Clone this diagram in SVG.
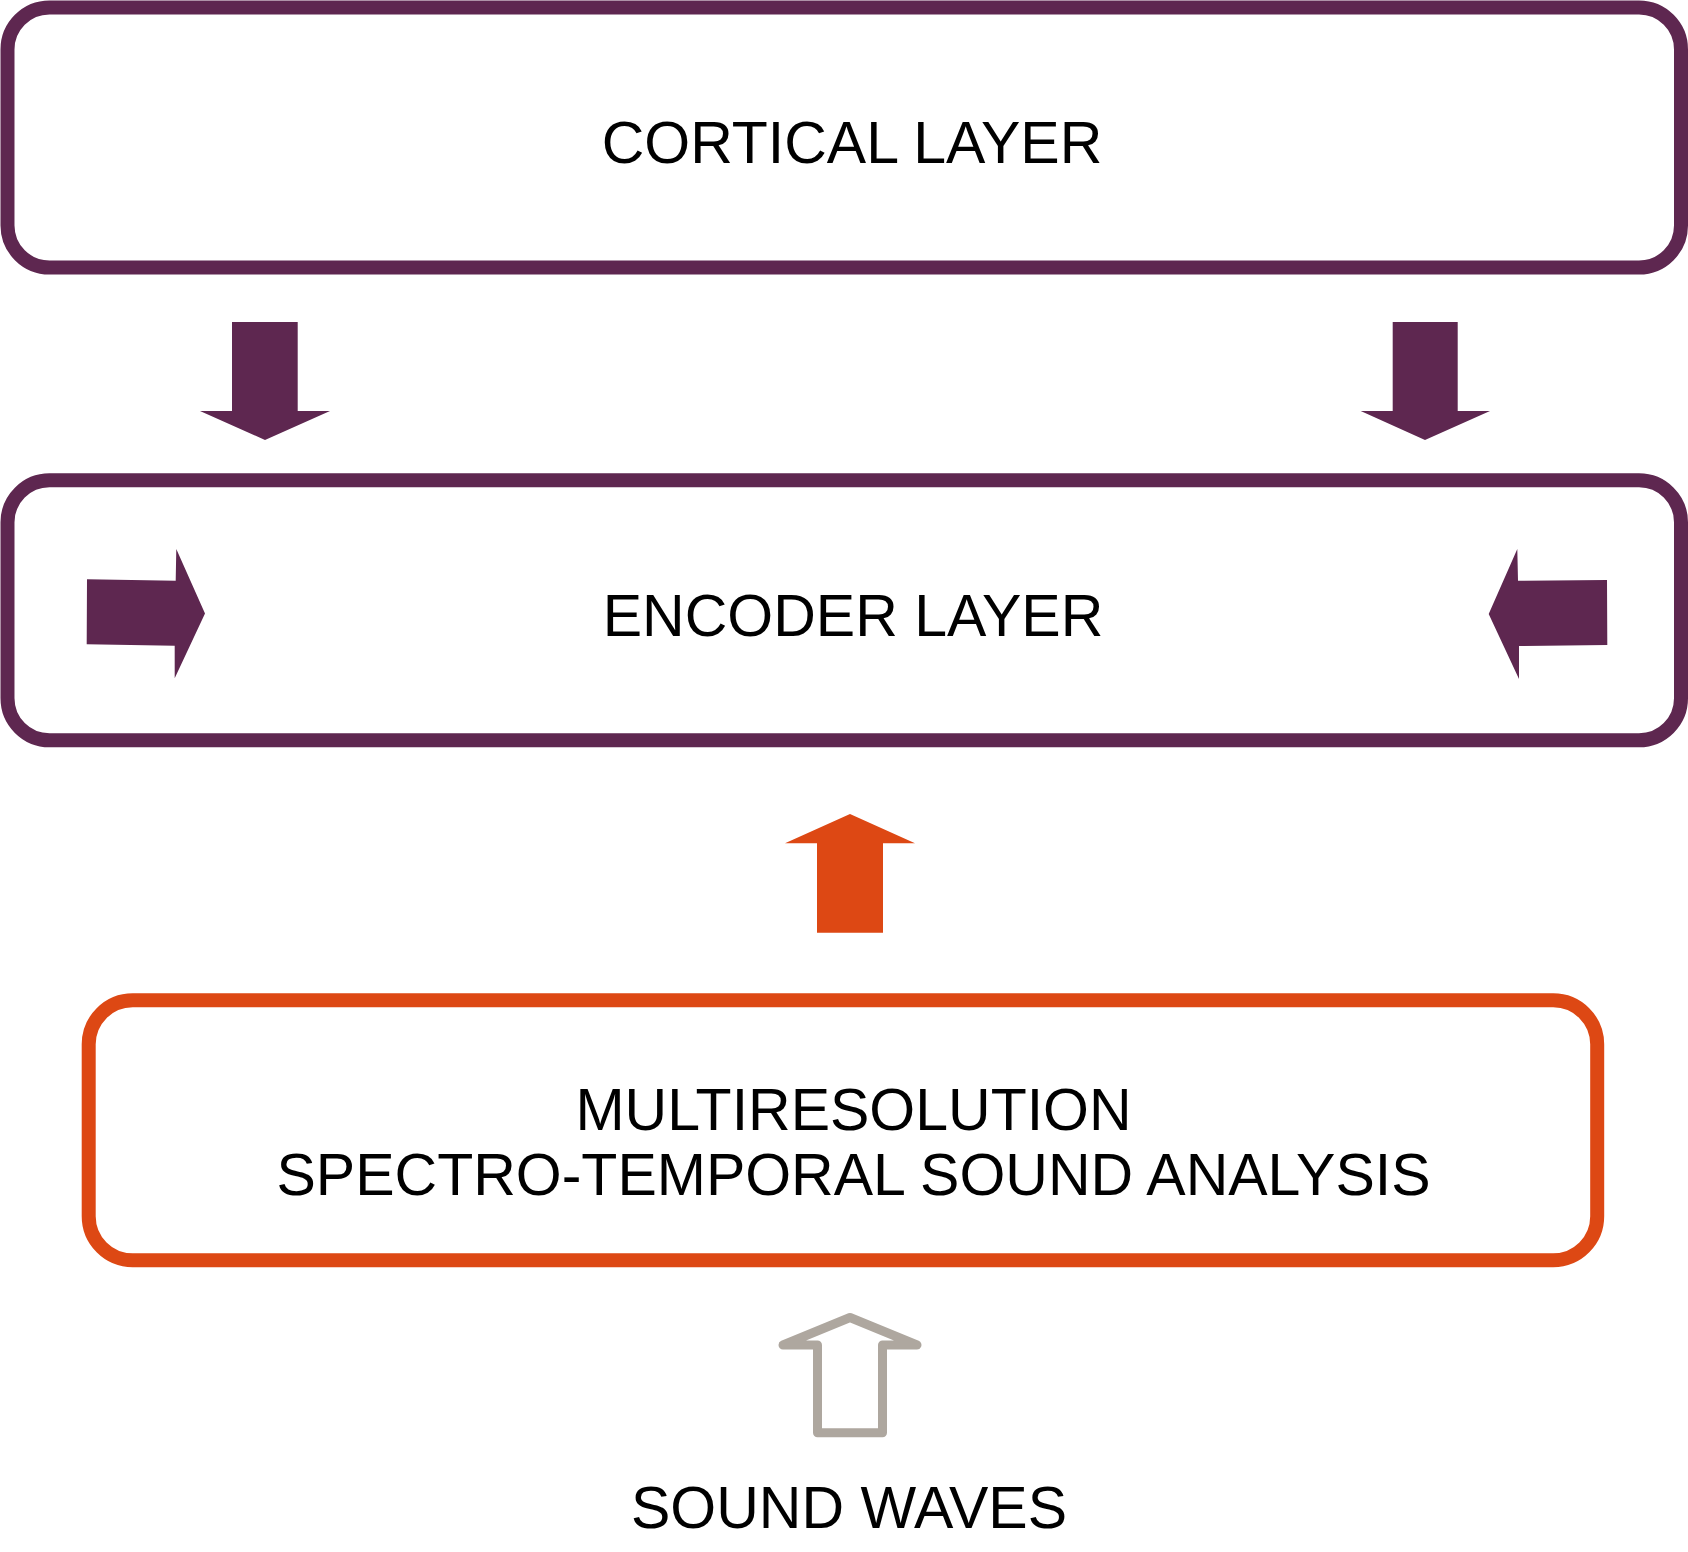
<svg xmlns="http://www.w3.org/2000/svg" width="1688" height="1552" viewBox="0 0 1688 1552">
  <style>
    .box-p { fill: #ffffff; stroke: #5e2750; stroke-width: 14; }
    .box-o { fill: #ffffff; stroke: #dd4814; stroke-width: 14; }
    .lbl { font-family: "Liberation Sans", Arial, sans-serif; font-size: 59px; fill: #000000; text-anchor: middle; }
    .arr-p { fill: #5e2750; }
    .arr-o { fill: #dd4814; }
    .arr-g { fill: none; stroke: #aea79f; stroke-width: 9; stroke-linejoin: round; }
  </style>
  <rect x="0" y="0" width="1688" height="1552" fill="#ffffff"/>

  <g id="cortical-layer">
    <rect class="box-p" x="7.5" y="7.5" width="1673.5" height="260" rx="42" ry="42"/>
    <text class="lbl" x="852" y="162.5">CORTICAL LAYER</text>
  </g>

  <g id="encoder-layer">
    <rect class="box-p" x="7.5" y="480.3" width="1673.5" height="260" rx="42" ry="42"/>
    <text class="lbl" x="853" y="636">ENCODER LAYER</text>
  </g>

  <g id="sound-analysis">
    <rect class="box-o" x="88.7" y="1000.3" width="1508.5" height="260" rx="44" ry="44"/>
    <text class="lbl" x="853.5" y="1130">MULTIRESOLUTION</text>
    <text class="lbl" x="853.5" y="1195">SPECTRO-TEMPORAL SOUND ANALYSIS</text>
  </g>

  <g id="sound-waves">
    <text class="lbl" x="849" y="1528">SOUND WAVES</text>
  </g>

  <g id="connectors">
    <polygon class="arr-p" points="232,322 297.7,322 297.7,411 330,411 265,440 200,411 232,411"/>
    <polygon class="arr-p" points="1392.7,322 1457.7,322 1457.7,411 1490,411 1425,440 1360.7,411 1392.7,411"/>
    <polygon class="arr-p" points="87,579.3 175.7,580.7 176.3,549 205,613.5 174.7,678.3 174.7,645.7 86.7,644.3"/>
    <polygon class="arr-p" points="1607,580 1518,580.7 1517.3,549 1488.7,614 1519,679 1519,646 1607.3,645"/>
    <polygon class="arr-o" points="850,814 915,843.3 883,843.3 883,932.7 817,932.7 817,843.3 785,843.3"/>
    <polygon class="arr-g" points="850,1317.5 917,1345 882.5,1345 882.5,1432.8 817.5,1432.8 817.5,1345 783,1345"/>
  </g>
</svg>
